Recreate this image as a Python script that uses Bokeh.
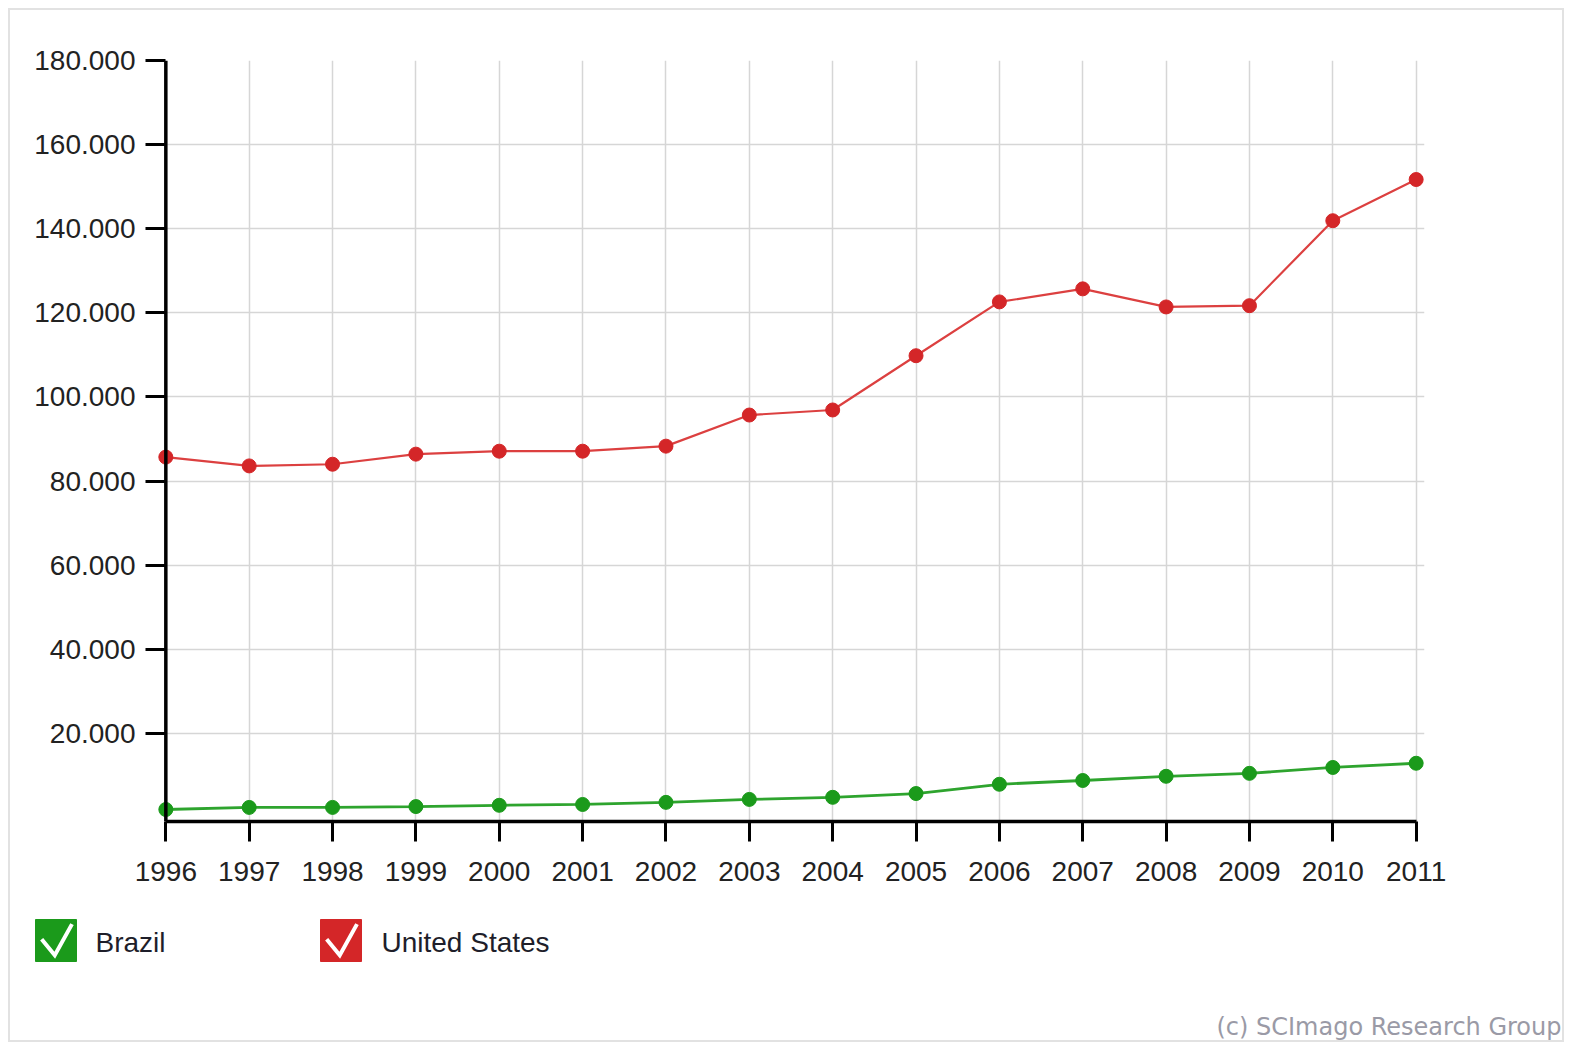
from bokeh.plotting import figure
from bokeh.layouts import column
from bokeh.models import (Range1d, FixedTicker, CustomJSTickFormatter, Span, ColumnDataSource)
from bokeh.core.properties import value
from bokeh.embed import file_html
from bokeh.resources import INLINE

# ---- data ----
years = list(range(1996, 2012))
brazil = [1900, 2400, 2400, 2600, 2900, 3100, 3600, 4300, 4800, 5700, 7900, 8800, 9800, 10500, 11900, 12900]
united_states = [85700, 83600, 84000, 86400, 87100, 87100, 88300, 95700, 96900, 109800, 122600, 125700,
                 121400, 121700, 141900, 151700]
y_ticks = [20000, 40000, 60000, 80000, 100000, 120000, 140000, 160000, 180000]
series_names = ["Brazil", "United States"]
series_colors = ["#1b9a1b", "#d42628"]
line_colors = ["#2ea42e", "#dc4040"]
line_widths = [2.8, 2.2]
copyright_text = "(c) SCImago Research Group"

FONT = "Liberation Sans"
BORDER = "2px solid #e2e2e2"

p = figure(width=1552, height=900, output_backend="svg", toolbar_location=None,
           x_range=Range1d(1995.9, 2011.1), y_range=Range1d(-950, 180000),
           min_border_left=147, min_border_right=138, min_border_top=50, min_border_bottom=89)
p.outline_line_color = None
p.background_fill_color = "white"
p.border_fill_color = "white"

# grid
p.xgrid.ticker = FixedTicker(ticks=years)
p.ygrid.ticker = FixedTicker(ticks=y_ticks)
for g in (p.xgrid, p.ygrid):
    g.grid_line_color = "#d6d6d6"
    g.grid_line_width = 1.5

# x axis
xa = p.xaxis[0]
xa.ticker = FixedTicker(ticks=years)
xa.bounds = (years[0], years[-1])
xa.axis_line_width = 3.5
xa.axis_line_color = "black"
xa.major_tick_line_width = 3
xa.major_tick_line_color = "black"
xa.major_tick_out = 20
xa.major_tick_in = 0
xa.minor_tick_line_color = None
xa.major_label_standoff = 20
xa.major_label_text_font = FONT
xa.major_label_text_font_size = "28px"
xa.major_label_text_color = "#222222"

# y axis
ya = p.yaxis[0]
ya.ticker = FixedTicker(ticks=y_ticks)
ya.formatter = CustomJSTickFormatter(code="return (tick/1000).toFixed(3);")
ya.axis_line_color = None
ya.major_tick_line_width = 3
ya.major_tick_line_color = "black"
ya.major_tick_out = 12
ya.major_tick_in = 8
ya.minor_tick_line_color = None
ya.major_label_standoff = 10
ya.major_label_text_font = FONT
ya.major_label_text_font_size = "28px"
ya.major_label_text_color = "#222222"

p.add_layout(Span(location=years[0], dimension="height", line_color="black", line_width=3.5))

for vals, c, lc, lw in zip([brazil, united_states], series_colors, line_colors, line_widths):
    src = ColumnDataSource(dict(x=years, y=vals))
    p.line("x", "y", source=src, line_color=lc, line_width=lw)
    p.scatter("x", "y", source=src, size=14, fill_color=c, line_color=c)

# ---- legend / footer strip (separate root, pixel-like coordinates) ----
lg = figure(width=1552, height=130, output_backend="svg", toolbar_location=None,
            x_range=Range1d(0, 1552), y_range=Range1d(130, 0),
            x_axis_location=None, y_axis_location=None,
            min_border_left=0, min_border_right=0, min_border_top=0, min_border_bottom=0)
lg.grid.visible = False
lg.outline_line_color = None
lg.border_fill_color = "white"
lg.background_fill_color = "white"

box_left = [25, 310]
box_w = 41
box_h = 42
box_top = 9
text_x = [85, 371]
lg.quad(left=box_left, right=[b + box_w for b in box_left], top=[box_top] * 2,
        bottom=[box_top + box_h] * 2, fill_color=series_colors, line_color=series_colors)
chk_xs = [[b + f * box_w for f in (0.15, 0.47, 0.89)] for b in box_left]
chk_ys = [[box_top + f * box_h for f in (0.47, 0.85, 0.11)] for _ in box_left]
lg.multi_line(chk_xs, chk_ys, line_color="white", line_width=4, line_join="miter")
lg.text(x=text_x, y=[32, 32], text=series_names, text_font=value(FONT), text_font_size="28px",
        text_color="#1e1e2a", text_baseline="middle", text_align="left")
lg.text(x=[1551], y=[116], text=[copyright_text], text_font=value("DejaVu Sans"), text_font_size="24px",
        text_color="#9a9aa6", text_baseline="middle", text_align="right")

top_box = column(p, styles={"margin": "8px 8px 0px 8px", "border": BORDER, "border-bottom": "none"})
bottom_box = column(lg, styles={"margin": "0px 8px", "border": BORDER, "border-top": "none"})

open("out.html", "w").write(file_html([top_box, bottom_box], INLINE))
